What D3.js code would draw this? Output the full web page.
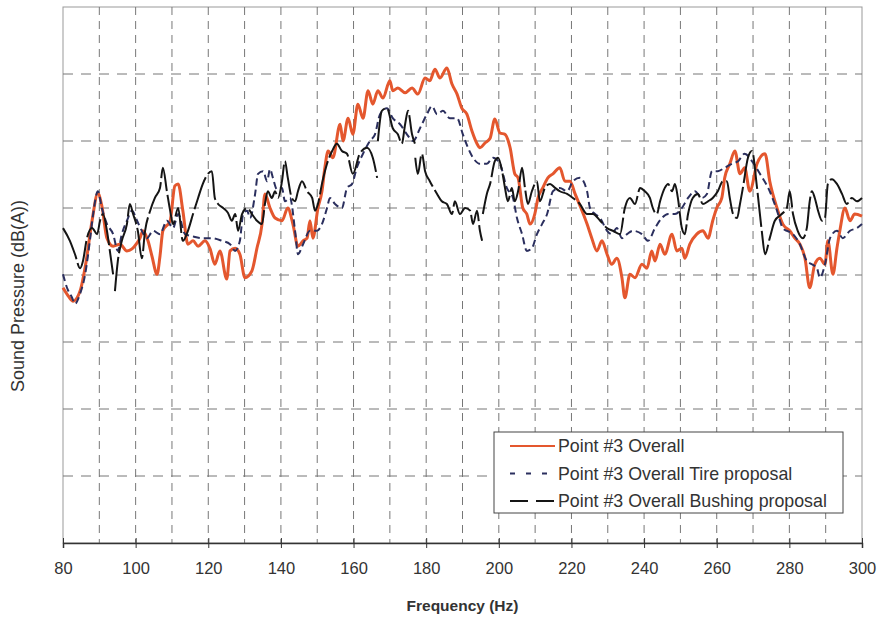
<!DOCTYPE html>
<head>
	<meta charset="utf-8">
	<style>
		body {margin: 0; background: #fff;}
		text {font-family: "Liberation Sans", Arial, sans-serif; fill: #333;}
	</style>
	<script src="https://d3js.org/d3.v7.min.js" charset="utf-8"></script>
</head>
<body>
	<script>
		// Point #3 Overall (solid orange)
		var overallHz = [80.0,81.4,82.8,84.7,86.3,88.0,89.6,90.7,92.1,93.8,95.7,97.6,99.0,100.4,101.2,102.0,103.4,104.5,105.9,106.7,
			107.5,109.5,110.8,111.7,113.0,114.4,115.8,117.2,119.1,120.5,121.8,123.2,125.1,126.0,127.4,128.7,130.1,132.0,133.4,134.8,
			135.6,137.0,138.4,140.3,141.9,143.3,144.7,146.1,147.2,148.0,148.8,150.2,151.3,152.1,153.0,154.3,156.3,157.1,158.5,159.8,
			161.2,162.6,164.0,165.3,166.7,168.1,170.0,170.8,172.2,174.2,176.1,177.7,179.7,181.0,182.4,183.8,185.7,187.1,188.5,189.8,
			191.2,192.6,194.0,194.8,196.2,197.6,198.9,200.3,201.7,203.1,204.4,205.3,206.6,207.7,208.6,209.9,210.8,212.1,213.5,214.9,
			216.8,218.2,219.6,221.0,222.9,224.3,225.6,227.0,228.4,229.8,231.1,232.5,233.9,234.7,236.1,237.5,239.4,240.8,242.1,243.0,
			244.4,245.7,247.7,249.0,250.4,251.2,252.6,254.5,256.2,257.6,258.9,260.0,261.4,262.2,263.6,265.0,266.4,267.7,269.1,271.1,
			273.3,274.6,276.6,278.2,280.1,281.5,282.9,284.3,285.6,287.0,288.4,289.8,290.6,292.0,293.1,293.9,295.3,296.7,298.0,300.0];
		var overallDb = [58.1,56.9,56.1,57.6,61.8,68.1,72.2,70.3,65.5,64.3,64.6,63.6,63.9,64.8,65.5,66.6,65.1,62.8,60.1,62.8,
			66.6,68.1,73.3,73.6,69.6,64.6,65.1,64.3,65.1,63.9,61.6,63.6,59.4,63.6,64.0,63.1,59.6,60.6,64.0,67.6,
			72.1,70.0,68.5,68.1,70.0,67.6,64.3,65.1,65.5,68.1,65.5,70.0,72.5,76.0,78.5,77.5,82.5,80.0,83.4,81.0,
			85.5,83.4,87.5,85.5,87.5,86.4,89.0,87.5,87.9,87.2,87.9,87.0,89.4,89.0,90.7,89.4,90.9,88.5,87.0,84.9,
			84.0,81.5,79.6,79.0,79.7,80.4,83.3,81.2,81.0,79.0,75.1,74.5,70.0,69.1,67.6,69.1,71.5,73.0,74.5,75.1,
			76.0,74.0,74.0,72.1,69.6,67.6,65.5,63.6,65.1,63.1,61.6,62.5,59.6,56.6,60.1,59.6,61.6,61.0,63.6,62.1,
			64.6,63.1,66.1,63.6,64.0,62.5,64.6,66.1,66.6,65.5,68.1,70.0,71.5,74.5,76.6,78.5,75.1,76.0,72.5,76.6,
			78.1,74.0,70.0,67.6,66.6,65.5,64.6,62.5,58.1,61.6,62.5,61.6,65.1,60.1,64.0,66.6,70.0,68.1,69.1,68.8];

		// Point #3 Overall Tire proposal (short dash, navy)
		var tireHz = [80.0,81.1,82.5,83.3,84.7,86.1,87.4,88.3,89.6,90.7,92.1,93.8,95.1,96.2,97.6,99.0,100.4,101.7,103.1,104.8,
			106.7,108.6,110.3,111.7,113.6,115.5,118.3,121.0,123.8,126.0,127.4,128.7,129.6,130.7,131.5,132.9,133.7,135.1,136.2,137.0,
			137.8,138.9,140.3,141.1,142.5,143.9,144.7,146.1,148.0,149.9,151.3,152.7,153.5,154.9,156.8,158.2,159.6,160.9,162.6,164.5,
			165.9,167.3,169.2,170.8,172.8,174.7,176.4,178.3,180.2,181.6,183.0,184.6,186.5,188.5,190.1,191.5,192.9,194.8,196.7,198.4,
			200.3,202.2,203.9,205.0,206.4,207.7,209.1,210.5,211.9,213.3,214.9,216.8,218.8,220.4,222.3,224.3,225.1,226.5,227.9,229.8,
			231.1,232.5,233.9,235.3,236.9,239.4,241.1,243.0,244.9,246.6,248.5,250.4,252.1,254.0,255.9,257.3,258.7,260.3,262.2,264.2,
			265.9,267.7,269.7,271.9,274.6,276.6,278.2,281.0,282.9,284.8,286.2,287.6,288.4,289.8,291.2,293.1,294.7,296.7,298.6,300.0];
		var tireDb = [60.1,58.1,56.6,55.7,57.2,60.1,65.1,69.1,72.5,70.0,67.6,66.1,63.6,66.1,68.1,69.6,68.1,66.6,65.5,66.6,
			66.1,68.1,67.0,69.1,66.1,65.8,65.5,65.5,65.1,64.6,63.6,65.1,69.1,69.6,68.5,72.1,75.1,75.5,74.0,75.8,
			74.5,72.8,73.0,71.0,71.5,66.6,63.1,64.6,66.6,66.6,67.6,70.0,71.5,70.6,70.0,73.0,73.6,76.0,78.1,80.0,
			81.0,84.0,84.9,83.4,82.5,81.0,80.0,81.9,84.0,85.2,84.0,84.5,83.4,83.4,81.0,79.0,77.5,76.6,76.6,77.5,
			76.6,73.0,71.5,68.5,66.1,63.6,64.0,66.1,67.6,69.1,72.5,73.0,72.5,74.0,74.5,72.5,70.0,69.1,68.5,66.6,
			66.1,67.0,65.5,66.1,66.6,66.1,65.1,67.0,68.5,69.1,69.1,70.0,71.5,72.5,71.5,72.1,75.5,75.5,76.0,76.6,
			77.0,78.1,77.0,75.1,72.5,69.6,67.0,66.1,64.6,62.1,61.6,61.0,59.6,61.6,65.5,66.6,65.5,66.6,67.0,67.6];

		// Point #3 Overall Bushing proposal (long dash, black); null = break in the trace
		var bushingHz = [80.0,81.9,83.3,84.7,85.5,86.6,88.0,89.4,90.2,91.0,92.1,92.9,93.8,94.0,94.3,95.1,96.2,97.6,98.4,99.3,
			100.6,101.7,102.6,104.0,105.3,106.7,107.5,108.6,109.5,110.3,111.7,113.0,114.4,115.8,117.2,118.5,119.9,121.0,121.8,122.7,
			124.1,125.4,126.5,127.4,128.2,129.3,130.7,132.0,133.4,134.8,135.6,136.4,137.5,138.4,139.2,140.3,141.1,141.9,143.0,143.9,
			144.7,145.8,147.2,148.6,149.4,150.2,151.3,152.7,154.1,155.4,156.8,158.2,159.8,161.7,163.7,165.3,166.5,166.6,166.7,167.8,
			169.2,170.8,172.2,173.3,174.2,175.0,176.1,176.9,176.95,177.0,177.7,178.8,179.7,181.0,183.0,184.3,185.7,187.1,187.9,189.3,
			190.7,192.1,192.9,194.0,194.8,195.4,195.5,195.6,196.7,197.6,198.9,199.8,200.9,201.7,202.5,203.6,204.4,205.3,206.4,207.2,
			208.0,209.1,210.5,211.3,212.7,214.1,215.5,216.8,218.8,220.4,222.3,224.3,225.9,227.9,229.8,231.4,233.4,234.7,236.1,237.5,
			238.9,240.2,241.6,242.4,243.5,244.4,245.7,246.6,247.7,248.5,249.3,250.4,251.2,252.1,253.4,254.8,256.2,257.6,258.9,260.3,
			261.7,262.8,263.6,264.5,265.6,266.4,267.2,268.6,269.7,271.1,272.4,273.3,274.6,276.0,277.9,279.3,280.1,281.0,282.3,283.7,
			284.8,285.6,286.2,287.0,287.9,289.0,289.8,290.6,291.7,293.1,294.5,295.8,297.2,298.6,300.0];
		var bushingDb = [67.0,65.1,63.1,61.0,62.1,65.5,67.0,66.1,68.1,69.1,66.6,63.6,60.1,null,57.6,62.1,65.1,67.6,70.6,69.1,
			66.6,62.5,66.6,69.6,71.5,73.0,76.0,72.5,69.6,67.6,70.0,65.1,66.6,69.1,71.5,73.6,75.1,75.5,71.5,70.6,
			70.0,69.3,68.1,69.1,66.6,69.1,70.0,69.1,68.1,67.6,70.6,72.5,71.5,72.5,71.5,74.0,77.0,74.5,71.5,71.0,
			72.5,74.0,72.5,71.5,69.6,70.6,73.6,76.6,78.5,79.6,78.5,78.1,75.1,78.1,79.0,77.5,74.5,null,80.0,84.5,
			84.9,81.9,81.0,79.6,82.5,84.5,81.0,79.6,null,77.5,75.1,78.1,75.5,74.0,72.1,71.0,70.6,69.1,71.0,69.1,
			70.0,69.6,67.6,69.6,66.6,65.1,null,69.1,72.1,73.6,77.0,77.5,75.5,73.0,71.0,73.0,71.0,72.5,76.0,73.0,
			70.6,72.5,74.0,71.0,73.0,73.6,73.0,72.5,72.1,71.5,70.6,69.1,69.1,68.1,67.0,66.6,66.1,70.0,71.5,70.6,
			73.0,72.5,71.5,70.0,69.1,71.0,73.0,73.6,72.5,73.6,71.5,67.0,66.1,69.1,71.5,72.1,70.6,71.0,71.5,72.5,
			74.0,74.0,71.5,69.1,68.5,70.6,73.0,77.5,78.5,73.0,66.6,63.1,65.5,68.1,69.1,70.0,72.5,69.1,66.6,65.5,
			67.0,71.0,72.5,71.5,69.6,68.1,68.5,73.6,74.3,73.6,72.1,70.6,71.5,71.0,71.5];

		var seriesNames = ["Point #3 Overall", "Point #3 Overall Tire proposal", "Point #3 Overall Bushing proposal"];
		var xTicks = [80, 100, 120, 140, 160, 180, 200, 220, 240, 260, 280, 300];

		var W = 880, H = 621,
			margin = {top: 7, right: 18, bottom: 78, left: 63},
			width = W - margin.left - margin.right,
			height = H - margin.top - margin.bottom;

		var svg = d3.select("body").append("svg")
					.attr("width", W)
					.attr("height", H);
		var g = svg.append("g")
					.attr("transform", "translate(" + margin.left + "," + margin.top + ")");

		var x = d3.scaleLinear().domain([80, 300]).range([0, width]);
		var y = d3.scaleLinear().domain([20, 100]).range([height, 0]);

		// frame
		g.append("rect")
			.attr("width", width).attr("height", height)
			.attr("fill", "#fff").attr("stroke", "#999").attr("stroke-width", 1);

		// dashed grid
		g.selectAll(".vgrid")
			.data(d3.range(90, 300, 10))
			.enter().append("line")
			.attr("x1", function(d){return x(d);}).attr("x2", function(d){return x(d);})
			.attr("y1", 0).attr("y2", height)
			.attr("stroke", "#777").attr("stroke-width", 1)
			.attr("stroke-dasharray", "8,6");
		g.selectAll(".hgrid")
			.data(d3.range(30, 100, 10))
			.enter().append("line")
			.attr("x1", 0).attr("x2", width)
			.attr("y1", function(d){return y(d);}).attr("y2", function(d){return y(d);})
			.attr("stroke", "#777").attr("stroke-width", 1)
			.attr("stroke-dasharray", "10,8");

		// x axis
		var xAxis = g.append("g")
			.attr("transform", "translate(0," + height + ")")
			.call(d3.axisBottom(x).tickValues(xTicks).tickSize(5).tickPadding(14));
		xAxis.select(".domain").attr("stroke", "#333").attr("stroke-width", 1.5);
		xAxis.selectAll(".tick line").attr("y1", -5).attr("stroke", "#333");
		xAxis.selectAll(".tick text")
			.attr("font-family", "Liberation Sans, Arial, sans-serif")
			.attr("font-size", "16.5px").attr("fill", "#333");

		// lines
		function makeLine(hz, db) {
			return d3.line()
				.defined(function(i){return db[i] !== null;})
				.x(function(i){return x(hz[i]);})
				.y(function(i){return y(db[i]);})
				.curve(d3.curveMonotoneX)(d3.range(hz.length));
		}

		g.append("path")
			.attr("d", makeLine(overallHz, overallDb))
			.attr("fill", "none").attr("stroke", "#e4572e")
			.attr("stroke-width", 3).attr("stroke-linejoin", "round");
		g.append("path")
			.attr("d", makeLine(tireHz, tireDb))
			.attr("fill", "none").attr("stroke", "#2b2f5e")
			.attr("stroke-width", 2).attr("stroke-dasharray", "7,4");
		g.append("path")
			.attr("d", makeLine(bushingHz, bushingDb))
			.attr("fill", "none").attr("stroke", "#151515")
			.attr("stroke-width", 2).attr("stroke-dasharray", "34,4")
			.attr("stroke-linejoin", "round");

		// legend
		var lg = svg.append("g").attr("transform", "translate(494,432)");
		lg.append("rect")
			.attr("width", 349).attr("height", 81)
			.attr("fill", "#fff").attr("stroke", "#444").attr("stroke-width", 1);
		var styles = [
			{color: "#e4572e", dash: null, w: 2},
			{color: "#2b2f5e", dash: "5,11", w: 2},
			{color: "#151515", dash: "18,8", w: 2}
		];
		seriesNames.forEach(function(name, i) {
			var cy = 14 + i * 27.5;
			lg.append("line")
				.attr("x1", 16).attr("x2", 61).attr("y1", cy).attr("y2", cy)
				.attr("stroke", styles[i].color).attr("stroke-width", styles[i].w)
				.attr("stroke-dasharray", styles[i].dash);
			lg.append("text")
				.attr("x", 64).attr("y", cy).attr("dy", "0.35em")
				.attr("font-size", "17.8px")
				.text(name);
		});

		// axis titles
		svg.append("text")
			.attr("x", margin.left + width / 2).attr("y", 606)
			.attr("dy", "0.35em").attr("text-anchor", "middle")
			.attr("font-size", "15.5px").attr("font-weight", "bold")
			.text("Frequency (Hz)");
		svg.append("text")
			.attr("transform", "translate(18,296) rotate(-90)")
			.attr("dy", "0.35em").attr("text-anchor", "middle")
			.attr("font-size", "18px")
			.text("Sound Pressure (dB(A))");
	</script>
</body>
</html>
